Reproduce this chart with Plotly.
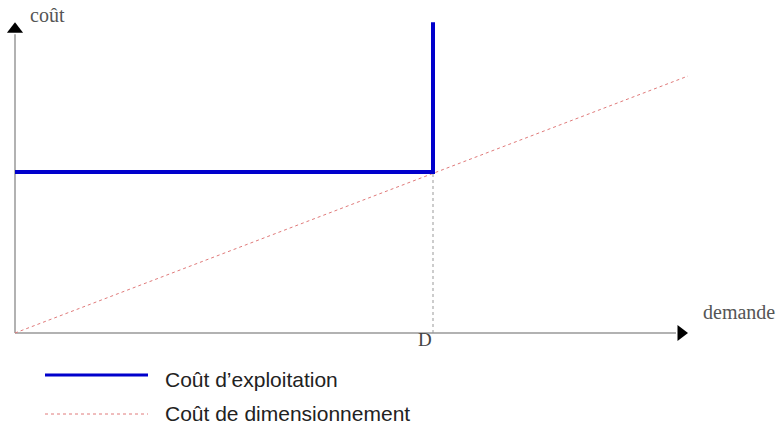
import plotly.graph_objects as go

# Data (arbitrary units: demand D = 1, cost at D = 1)
D = 1.0
exploit_x = [0.0, D, D]
exploit_y = [1.0, 1.0, 1.93]
dim_x = [0.0, 1.61]
dim_y = [0.0, 1.596]
axis_x_max = 1.61
axis_y_max = 1.93
legend_labels = ["Coût d\u2019exploitation", "Coût de dimensionnement"]

W, H = 780, 428
x0_px, y0_px = 15, 333
sx, sy = 418.0, 161.0
xr = [-x0_px / sx, (W - x0_px) / sx]
yr = [(y0_px - H) / sy, y0_px / sy]


def px(x):
    return x / W


def py(y):
    return 1 - y / H


blue = "#0000CC"
red = "#E07A7A"
gray = "#999999"

fig = go.Figure()
fig.add_trace(go.Scatter(x=[0, axis_x_max - 12 / sx], y=[0, 0], mode="lines",
                         line=dict(color=gray, width=1.5), showlegend=False, hoverinfo="skip"))
fig.add_trace(go.Scatter(x=[0, 0], y=[0, axis_y_max - 12 / sy], mode="lines",
                         line=dict(color=gray, width=1.5), showlegend=False, hoverinfo="skip"))
fig.add_trace(go.Scatter(x=[axis_x_max - 7 / sx], y=[0], mode="markers",
                         marker=dict(symbol="triangle-right", size=14, color="black"),
                         showlegend=False, hoverinfo="skip"))
fig.add_trace(go.Scatter(x=[0], y=[axis_y_max - 7 / sy], mode="markers",
                         marker=dict(symbol="triangle-up", size=14, color="black"),
                         showlegend=False, hoverinfo="skip"))
fig.add_trace(go.Scatter(x=[D, D], y=[0, exploit_y[0]], mode="lines",
                         line=dict(color=gray, width=1, dash="dot"), showlegend=False, hoverinfo="skip"))
fig.add_trace(go.Scatter(x=dim_x, y=dim_y, mode="lines", name=legend_labels[1],
                         line=dict(color=red, width=1, dash="dot"), showlegend=False))
fig.add_trace(go.Scatter(x=exploit_x, y=exploit_y, mode="lines", name=legend_labels[0],
                         line=dict(color=blue, width=4), showlegend=False))

serif = "Liberation Serif, Times New Roman, serif"
sans = "Liberation Sans, Arial, sans-serif"
ann = [
    dict(x=px(29), y=py(15), text="coût", xanchor="left", yanchor="middle",
         font=dict(family=serif, size=20, color="#555555")),
    dict(x=px(702), y=py(312), text="demande", xanchor="left", yanchor="middle",
         font=dict(family=serif, size=20, color="#555555")),
    dict(x=px(425), y=py(339), text="D", xanchor="center", yanchor="middle",
         font=dict(family=serif, size=19, color="#444444")),
    dict(x=px(164), y=py(379), text=legend_labels[0], xanchor="left", yanchor="middle",
         font=dict(family=sans, size=21, color="#222222")),
    dict(x=px(164), y=py(413), text=legend_labels[1], xanchor="left", yanchor="middle",
         font=dict(family=sans, size=21, color="#222222")),
]
for a in ann:
    a.update(xref="paper", yref="paper", showarrow=False, borderpad=0)

shapes = [
    dict(type="line", xref="paper", yref="paper", x0=px(45), x1=px(148),
         y0=py(375), y1=py(375), line=dict(color=blue, width=3)),
    dict(type="line", xref="paper", yref="paper", x0=px(45), x1=px(148),
         y0=py(414), y1=py(414), line=dict(color=red, width=1, dash="dot")),
]

fig.update_layout(
    width=W, height=H, margin=dict(l=0, r=0, t=0, b=0),
    paper_bgcolor="white", plot_bgcolor="white",
    xaxis=dict(range=xr, visible=False, fixedrange=True),
    yaxis=dict(range=yr, visible=False, fixedrange=True),
    annotations=ann, shapes=shapes, showlegend=False,
)
fig.write_html("out.html", config={"displayModeBar": False},
               post_script="document.body.style.margin='0';document.body.style.overflow='hidden';")
